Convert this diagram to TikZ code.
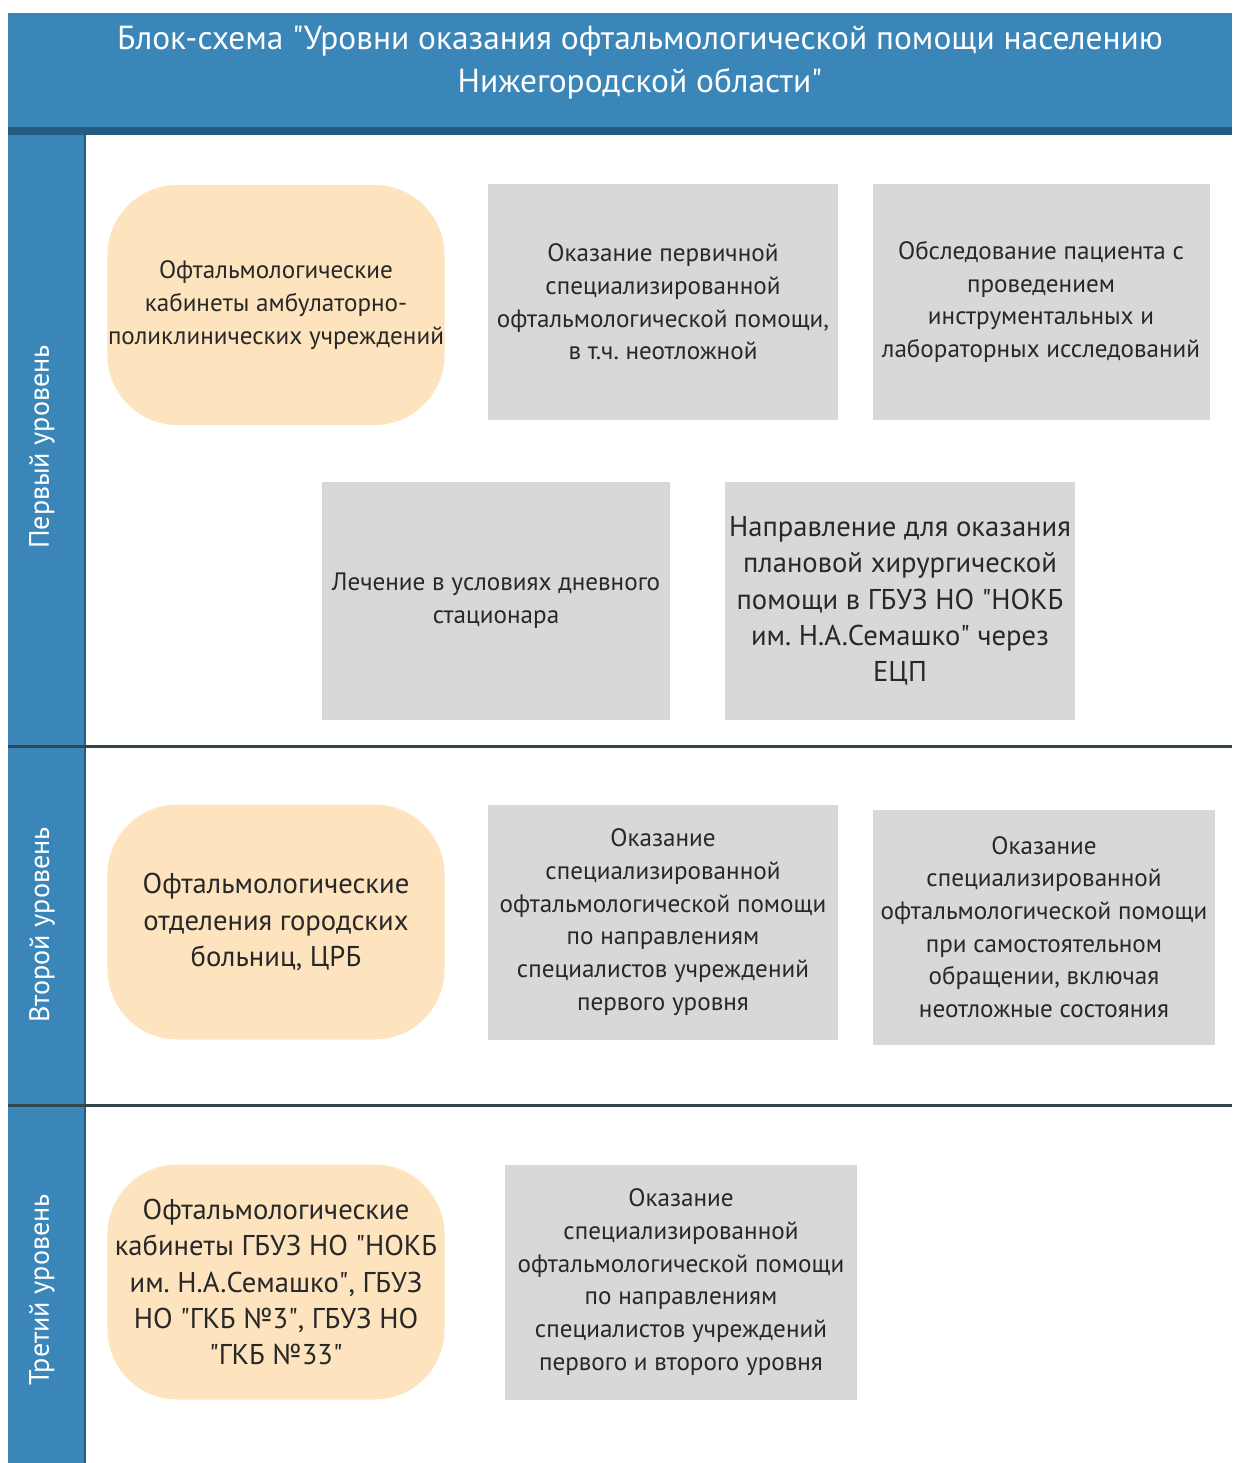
\documentclass[tikz,border=0pt]{standalone}
\usepackage{fontspec}
\setmainfont{PT Sans}
\definecolor{bandblue}{RGB}{58,134,184}
\definecolor{banddark}{RGB}{34,92,130}
\definecolor{peach}{RGB}{253,228,190}
\definecolor{boxgray}{RGB}{216,216,216}
\definecolor{rulegray}{RGB}{50,70,76}
\definecolor{inkgray}{RGB}{40,40,40}
\newcommand{\dquote}{\XeTeXglyph\XeTeXcharglyph"22\relax}
\frenchspacing

\tikzset{
  actbox/.style={fill=boxgray, align=center, inner sep=0pt, text=inkgray,
    font=\fontsize{14.3}{18.6}\selectfont},
  placebox/.style={fill=peach, rounded corners=14mm, align=center, inner sep=0pt,
    text=inkgray, font=\fontsize{14.3}{18.6}\selectfont},
  bigtext/.style={font=\fontsize{16.3}{20.6}\selectfont},
  levellabel/.style={rotate=90, text=white, font=\fontsize{16}{19}\selectfont}
}

\begin{document}
\begin{tikzpicture}[x=0.2mm,y=-0.2mm]
\useasboundingbox (0,0) rectangle (1232,1463);
\fill[white] (0,0) rectangle (1232,1463);
% header and side band
\fill[bandblue] (8,13) rectangle (1232,131);
\fill[bandblue] (8,131) rectangle (85,1463);
\fill[banddark] (8,127) rectangle (1232,135);
\draw[banddark,line width=0.4mm] (85,135) -- (85,1463);
\node[text=white, align=center, font=\fontsize{19}{24.5}\selectfont] (title) at (640,63)
  {Блок-схема \dquote Уровни оказания офтальмологической помощи населению\\Нижегородской области\dquote};
% lane separators
\draw[rulegray,line width=0.6mm] (8,746) -- (1232,746);
\draw[rulegray,line width=0.6mm] (8,1105) -- (1232,1105);
\node[levellabel] (lev1) at (42,447) {Первый уровень};
\node[levellabel] (lev2) at (42,925) {Второй уровень};
\node[levellabel] (lev3) at (42,1290) {Третий уровень};

% first level
\node[placebox, minimum width=67.4mm, minimum height=48mm] (clinic1) at (276,305)
  {Офтальмологические\\кабинеты амбулаторно-\\поликлинических учреждений};
\node[actbox, minimum width=70mm, minimum height=47mm] (primary) at (663,302)
  {Оказание первичной\\специализированной\\офтальмологической помощи,\\в т.ч. неотложной};
\node[actbox, minimum width=67.4mm, minimum height=47mm] (exam) at (1041,302)
  {Обследование пациента с\\проведением\\инструментальных и\\лабораторных исследований};
\node[actbox, minimum width=69.6mm, minimum height=47.4mm] (dayward) at (496,601)
  {Лечение в условиях дневного\\стационара};
\node[actbox, bigtext, minimum width=70mm, minimum height=47.4mm] (referral) at (900,601)
  {Направление для оказания\\плановой хирургической\\помощи в ГБУЗ НО \dquote НОКБ\\им. Н.А.Семашко\dquote{} через\\ЕЦП};

% second level
\node[placebox, bigtext, minimum width=67.4mm, minimum height=47mm] (clinic2) at (276,922)
  {Офтальмологические\\отделения городских\\больниц, ЦРБ};
\node[actbox, minimum width=70mm, minimum height=47mm] (special2) at (663,922)
  {Оказание\\специализированной\\офтальмологической помощи\\по направлениям\\специалистов учреждений\\первого уровня};
\node[actbox, minimum width=68.4mm, minimum height=47mm] (selfcare) at (1044,927)
  {Оказание\\специализированной\\офтальмологической помощи\\при самостоятельном\\обращении, включая\\неотложные состояния};

% third level
\node[placebox, bigtext, minimum width=67.4mm, minimum height=47mm] (clinic3) at (276,1282)
  {Офтальмологические\\кабинеты ГБУЗ НО \dquote НОКБ\\им. Н.А.Семашко\dquote, ГБУЗ\\НО \dquote ГКБ №3\dquote, ГБУЗ НО\\\dquote ГКБ №33\dquote};
\node[actbox, minimum width=70.4mm, minimum height=47mm] (special3) at (681,1282)
  {Оказание\\специализированной\\офтальмологической помощи\\по направлениям\\специалистов учреждений\\первого и второго уровня};
\end{tikzpicture}
\end{document}
